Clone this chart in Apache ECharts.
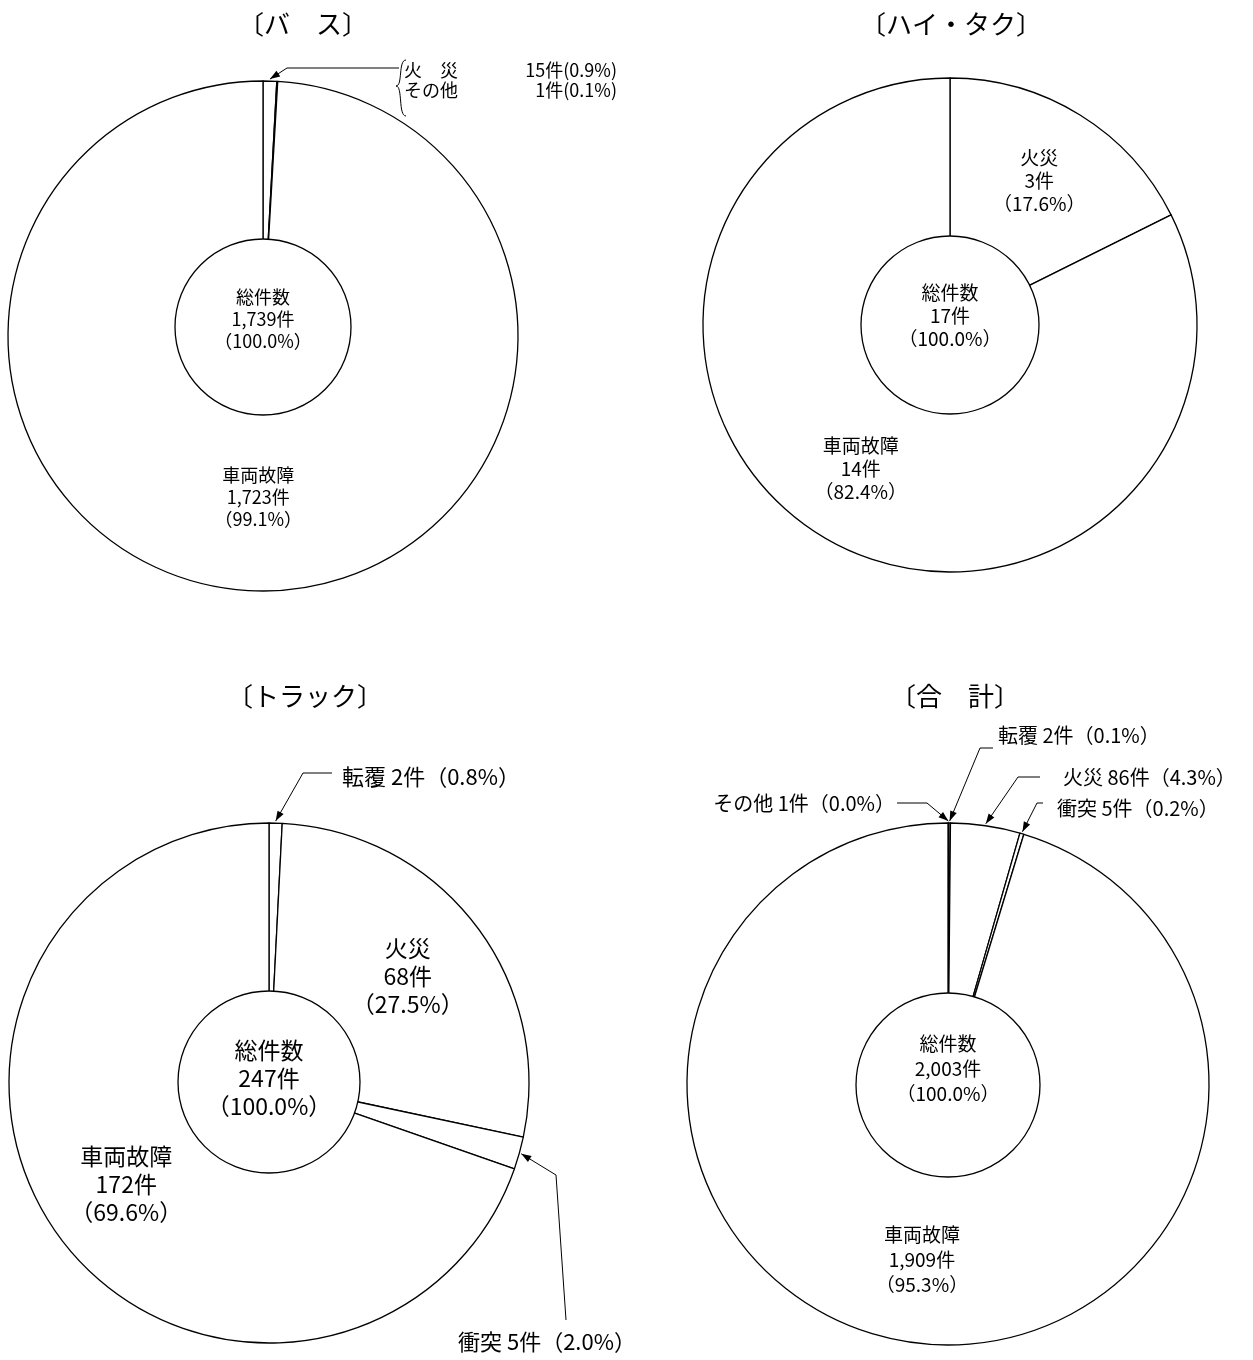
<!DOCTYPE html>
<html>
<head>
<meta charset="utf-8">
<script src="https://cdn.jsdelivr.net/npm/echarts@6/dist/echarts.min.js"></script>
<style>
  html, body { margin: 0; padding: 0; background: #fff; }
  #chart { width: 1253px; height: 1360px; }
</style>
</head>
<body>
<div id="chart"></div>
<script>
// ---- data ----
var busNames = ['火災', 'その他', '車両故障'];
var busValues = [15, 1, 1723];
var taxiNames = ['火災', '車両故障'];
var taxiValues = [3, 14];
var truckNames = ['転覆', '火災', '衝突', '車両故障'];
var truckValues = [2, 68, 5, 172];
var totalNames = ['その他', '転覆', '火災', '衝突', '車両故障'];
var totalValues = [1, 2, 86, 5, 1909];
var panelTitles = ['〔バ　ス〕', '〔ハイ・タク〕', '〔トラック〕', '〔合　計〕'];
var centerName = '総件数';

var FONT = '"Noto Sans CJK JP", "Noto Sans", sans-serif';

// layout / style of each panel (no data in here)
var panels = [
    {
        names: busNames, values: busValues, title: panelTitles[0], titleX: 303, titleY: 11,
        center: [263, 336], r: 255, r0: 62, hole: [263, 327], holeR: 88, holeDy: -8,
        font: 18, lh: 22, noteFont: 18, spaced: true,
        notes: {
            '火災': { x: 404, y: 70, elbow: [287, 68], end: [399, 68] },
            'その他': { x: 404, y: 90 }
        }
    },
    {
        names: taxiNames, values: taxiValues, title: panelTitles[1], titleX: 951, titleY: 11,
        center: [950, 325], r: 247, r0: 86, hole: [950, 325], holeR: 89, holeDy: -9,
        font: 19, lh: 23, notes: {}
    },
    {
        names: truckNames, values: truckValues, title: panelTitles[2], titleX: 305, titleY: 683,
        center: [269, 1083], r: 260, r0: 84, hole: [269, 1082], holeR: 91, holeDy: -4,
        font: 23, lh: 28, noteFont: 22,
        notes: {
            '転覆': { x: 342, y: 777, elbow: [303, 773], end: [332, 773] },
            '衝突': { x: 458, y: 1342, elbow: [556, 1175], end: [566, 1320] }
        }
    },
    {
        names: totalNames, values: totalValues, title: panelTitles[3], titleX: 955, titleY: 683,
        center: [948, 1084], r: 261, r0: 88, hole: [948, 1085], holeR: 92, holeDy: -16,
        font: 19, lh: 25, noteFont: 20,
        notes: {
            'その他': { x: 895, y: 803, align: 'right', elbow: [927, 803], end: [897, 803] },
            '転覆': { x: 998, y: 735, elbow: [980, 748], end: [993, 748] },
            '火災': { x: 1063, y: 777, elbow: [1018, 777], end: [1040, 777] },
            '衝突': { x: 1057, y: 808, elbow: [1037, 803], end: [1043, 803] }
        }
    }
];

function sumOf(arr) {
    return arr.reduce(function (a, b) { return a + b; }, 0);
}
function pct(v, total) {
    return (v / total * 100).toFixed(1);
}
function num(v) {
    return v.toLocaleString('en-US');
}
// point just outside the outer edge, at the slice's middle angle
function tipPoint(p, idx) {
    var total = sumOf(p.values);
    var before = 0;
    for (var j = 0; j < idx; j++) before += p.values[j];
    var a = (before + p.values[idx] / 2) / total * Math.PI * 2;
    var rr = p.r + 2;
    return [p.center[0] + rr * Math.sin(a), p.center[1] - rr * Math.cos(a)];
}

var series = [];
var graphics = [];

panels.forEach(function (p) {
    var total = sumOf(p.values);

    series.push({
        type: 'pie',
        center: p.center,
        radius: [p.r0, p.r],
        startAngle: 90,
        clockwise: true,
        avoidLabelOverlap: false,
        silent: true,
        animation: false,
        itemStyle: { color: '#fff', borderColor: '#000', borderWidth: 1.3 },
        label: {
            show: true,
            position: 'inside',
            color: '#000',
            fontFamily: FONT,
            fontSize: p.font,
            lineHeight: p.lh,
            formatter: function (params) {
                return params.name + '\n' + num(params.value) + '件\n（' + pct(params.value, total) + '%）';
            }
        },
        labelLine: { show: false },
        labelLayout: function (params) {
            var name = p.names[params.dataIndex];
            var note = p.notes[name];
            if (!note) return {};
            var out = { x: note.x, y: note.y, align: note.align || 'left', verticalAlign: 'middle' };
            if (note.end) {
                out.labelLinePoints = [tipPoint(p, params.dataIndex), note.elbow, note.end];
            }
            return out;
        },
        data: p.names.map(function (n, i) {
            var item = { name: n, value: p.values[i] };
            var note = p.notes[n];
            if (note) {
                item.label = {
                    position: 'outside',
                    fontSize: p.noteFont,
                    lineHeight: p.noteFont + 4,
                    formatter: p.spaced
                        ? function (params) {
                            var disp = params.name.length === 2 ? params.name[0] + '　' + params.name[1] : params.name;
                            return '{n|' + disp + '}{v|' + params.value + '件(' + pct(params.value, total) + '%)}';
                        }
                        : function (params) {
                            return params.name + ' ' + params.value + '件（' + pct(params.value, total) + '%）';
                        }
                };
                if (p.spaced) {
                    item.label.rich = {
                        n: { width: 74, fontSize: p.noteFont, fontFamily: FONT, color: '#000' },
                        v: { width: 139, align: 'right', fontSize: p.noteFont, fontFamily: FONT, color: '#000' }
                    };
                }
                item.labelLine = {
                    show: !!note.end,
                    smooth: false,
                    lineStyle: { color: '#000', width: 1 }
                };
                if (note.end) {
                    var tip = tipPoint(p, i);
                    var dx = tip[0] - note.elbow[0], dy = tip[1] - note.elbow[1];
                    var len = Math.sqrt(dx * dx + dy * dy);
                    dx /= len; dy /= len;
                    var L = 10, W = 3.5;
                    graphics.push({
                        type: 'polygon',
                        silent: true,
                        z: 100,
                        shape: {
                            points: [
                                tip,
                                [tip[0] - dx * L - dy * W, tip[1] - dy * L + dx * W],
                                [tip[0] - dx * L + dy * W, tip[1] - dy * L - dx * W]
                            ]
                        },
                        style: { fill: '#000' }
                    });
                }
            }
            return item;
        })
    });

    // the centre circle with the total
    series.push({
        type: 'pie',
        center: p.hole,
        radius: [0, p.holeR],
        silent: true,
        animation: false,
        itemStyle: { color: '#fff', borderColor: '#000', borderWidth: 1.3 },
        label: {
            show: true,
            position: 'center',
            color: '#000',
            fontFamily: FONT,
            fontSize: p.font,
            lineHeight: p.lh,
            formatter: function (params) {
                return params.name + '\n' + num(params.value) + '件\n（' + pct(params.value, total) + '%）';
            }
        },
        labelLine: { show: false },
        labelLayout: { dy: p.holeDy },
        data: [{ name: centerName, value: total }]
    });
});

// brace in front of the bus notes
[[406, 60, 398, 60, 403, 86, 396, 86], [396, 86, 403, 86, 398, 116, 406, 116]].forEach(function (b) {
    graphics.push({
        type: 'bezierCurve',
        silent: true,
        shape: { x1: b[0], y1: b[1], cpx1: b[2], cpy1: b[3], cpx2: b[4], cpy2: b[5], x2: b[6], y2: b[7] },
        style: { fill: null, stroke: '#000', lineWidth: 1 }
    });
});

var myChart = echarts.init(document.getElementById('chart'));
myChart.setOption({
    backgroundColor: '#fff',
    textStyle: { fontFamily: FONT },
    title: panels.map(function (p) {
        return {
            text: p.title,
            left: p.titleX,
            top: p.titleY,
            textAlign: 'center',
            padding: 0,
            textStyle: { fontSize: 26, fontWeight: 'normal', color: '#000', fontFamily: FONT }
        };
    }),
    series: series,
    graphic: graphics
});
</script>
</body>
</html>
